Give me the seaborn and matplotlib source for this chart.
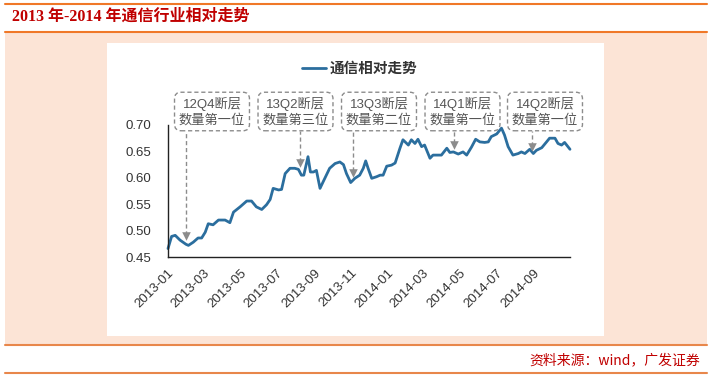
import matplotlib
matplotlib.use("Agg")
import matplotlib.pyplot as plt
import matplotlib.dates as mdates
from matplotlib.patches import Rectangle
import seaborn as sns
import pandas as pd

# ---------------- data ----------------
dates = [
    "2013-01-01", "2013-01-07", "2013-01-13", "2013-01-21", "2013-01-31", "2013-02-04",
    "2013-02-12", "2013-02-20", "2013-02-26", "2013-03-04", "2013-03-09", "2013-03-17",
    "2013-03-26", "2013-04-06", "2013-04-14", "2013-04-20", "2013-05-01", "2013-05-12",
    "2013-05-20", "2013-05-28", "2013-06-06", "2013-06-14", "2013-06-20", "2013-06-25",
    "2013-07-04", "2013-07-09", "2013-07-15", "2013-07-23", "2013-07-31", "2013-08-06",
    "2013-08-11", "2013-08-15", "2013-08-22", "2013-08-26", "2013-08-31", "2013-09-05",
    "2013-09-11", "2013-09-16", "2013-09-27", "2013-10-06", "2013-10-14", "2013-10-20",
    "2013-10-25", "2013-11-01", "2013-11-08", "2013-11-16", "2013-11-22", "2013-11-26",
    "2013-11-30", "2013-12-06", "2013-12-14", "2013-12-20", "2013-12-25", "2013-12-31",
    "2014-01-08", "2014-01-14", "2014-01-22", "2014-01-27", "2014-02-05", "2014-02-10",
    "2014-02-16", "2014-02-21", "2014-02-27", "2014-03-04", "2014-03-13", "2014-03-18",
    "2014-03-27", "2014-04-01", "2014-04-10", "2014-04-15", "2014-04-21", "2014-04-29",
    "2014-05-07", "2014-05-13", "2014-05-21", "2014-05-28", "2014-06-04", "2014-06-12",
    "2014-06-18", "2014-06-23", "2014-07-02", "2014-07-10", "2014-07-15", "2014-07-21",
    "2014-07-29", "2014-08-07", "2014-08-12", "2014-08-18", "2014-08-26", "2014-09-01",
    "2014-09-06", "2014-09-15", "2014-09-23", "2014-09-28", "2014-10-07", "2014-10-12",
    "2014-10-18", "2014-10-23", "2014-11-01",
]
values = [
    0.466, 0.489, 0.491, 0.482, 0.474, 0.472,
    0.478, 0.486, 0.486, 0.497, 0.513, 0.511,
    0.520, 0.520, 0.515, 0.535, 0.545, 0.556,
    0.556, 0.545, 0.540, 0.549, 0.559, 0.580,
    0.577, 0.578, 0.608, 0.618, 0.618, 0.616,
    0.605, 0.605, 0.640, 0.611, 0.611, 0.614,
    0.580, 0.592, 0.618, 0.627, 0.630, 0.625,
    0.608, 0.591, 0.599, 0.605, 0.618, 0.632,
    0.618, 0.599, 0.602, 0.605, 0.605, 0.622,
    0.624, 0.628, 0.656, 0.672, 0.662, 0.672,
    0.665, 0.673, 0.659, 0.662, 0.637, 0.643,
    0.643, 0.643, 0.656, 0.648, 0.649, 0.645,
    0.649, 0.643, 0.658, 0.673, 0.668, 0.667,
    0.668, 0.678, 0.683, 0.694, 0.681, 0.659,
    0.643, 0.646, 0.649, 0.646, 0.654, 0.646,
    0.652, 0.657, 0.668, 0.675, 0.675, 0.665,
    0.662, 0.667, 0.654,
]
series_name = "通信相对走势"

event_dates = ["2013-01-31", "2013-08-08", "2013-11-05", "2014-04-22", "2014-08-29"]
event_values = [0.485, 0.624, 0.606, 0.659, 0.654]
event_line1 = ["12Q4断层", "13Q2断层", "13Q3断层", "14Q1断层", "14Q2断层"]
event_line2 = ["数量第一位", "数量第三位", "数量第二位", "数量第一位", "数量第一位"]

y_ticks = [0.45, 0.50, 0.55, 0.60, 0.65, 0.70]
tick_months = [1, 3, 5, 7, 9, 11]

title_text = "2013 年-2014 年通信行业相对走势"
source_text = "资料来源：wind，广发证券"

# ---------------- style ----------------
sns.set_style("white")
plt.rcParams["font.family"] = ["Liberation Sans", "Noto Sans CJK SC", "DejaVu Sans"]

W, H = 713, 378
fig = plt.figure(figsize=(W / 100, H / 100), dpi=100)

def fx(px):
    return px / W

def fy(py):
    return 1 - py / H

orange = "#F07828"
peach = "#FCE4D6"
red = "#C00000"

# background frame
fig.patches.append(Rectangle((fx(5), fy(344)), fx(707) - fx(5), fy(33) - fy(344),
                             transform=fig.transFigure, facecolor=peach, edgecolor="none", zorder=-3))
fig.patches.append(Rectangle((fx(107), fy(336)), fx(604) - fx(107), fy(43) - fy(336),
                             transform=fig.transFigure, facecolor="white", edgecolor="none", zorder=-2))
for yy, col in [(4, orange), (32, orange), (345, "#E8874B"), (373, "#E8874B")]:
    fig.add_artist(plt.Line2D([fx(5), fx(707)], [fy(yy), fy(yy)], transform=fig.transFigure,
                              color=col, lw=1.5, zorder=-1))

fig.text(fx(12), fy(17), title_text, color=red, fontsize=11.5, fontweight="bold",
         family=["Liberation Serif", "Noto Sans CJK SC"], va="center", ha="left")
fig.text(fx(700), fy(360), source_text, color=red, fontsize=10,
         family=["Noto Sans CJK SC", "DejaVu Sans"], va="center", ha="right")

# axes
ax = fig.add_axes([fx(168), fy(257), fx(570) - fx(168), fy(125) - fy(257)])
ax.set_zorder(2)
ax.patch.set_alpha(0)

df = pd.DataFrame({"date": pd.to_datetime(dates), "value": values})
sns.lineplot(data=df, x="date", y="value", ax=ax, color="#2B6E9E", lw=2.0,
             label=series_name, legend=False)

ax.set_xlim(pd.Timestamp("2013-01-01"), pd.Timestamp("2014-11-01"))
ax.set_ylim(0.45, 0.70)
ax.set_yticks(y_ticks)
ax.set_yticklabels([f"{v:.2f}" for v in y_ticks])
ax.xaxis.set_major_locator(mdates.MonthLocator(bymonth=tick_months))
ax.xaxis.set_major_formatter(mdates.DateFormatter("%Y-%m"))
ax.set_xticks([t for t in ax.get_xticks() if t < mdates.date2num(pd.Timestamp("2014-10-15"))])
ax.xaxis.set_major_formatter(mdates.DateFormatter("%Y-%m"))
ax.set_xlabel("")
ax.set_ylabel("")
for s in ["top", "right"]:
    ax.spines[s].set_visible(False)
for s in ["left", "bottom"]:
    ax.spines[s].set_color("#222222")
    ax.spines[s].set_linewidth(1.0)
ax.tick_params(axis="both", direction="out", length=4, width=1.0, color="#222222",
               labelsize=9.5, labelcolor="#333333", pad=3)
ax.tick_params(axis="y", pad=8)
for lab in ax.get_xticklabels():
    lab.set_rotation(45)
    lab.set_ha("right")
    lab.set_rotation_mode("anchor")
ax.grid(False)
for line in ax.get_lines():
    line.set_clip_on(False)

# event arrows
top_val = 0.688
for d, v in zip(event_dates, event_values):
    xd = pd.Timestamp(d)
    ax.plot([xd, xd], [v + 0.006, top_val], ls=(0, (3, 2)), color="#8C8C8C", lw=1.0,
            clip_on=False, zorder=3)
    ax.scatter([xd], [v + 0.004], marker="v", s=38, color="#8C8C8C", clip_on=False, zorder=4,
               linewidths=0)

# event boxes
box_cx = [212, 295.5, 379, 462.5, 545]
for cx, t1, t2 in zip(box_cx, event_line1, event_line2):
    fig.text(fx(cx), fy(111.5), t1 + "\n" + t2, ha="center", va="center", fontsize=9.5,
             color="#555555", linespacing=1.3,
             family=["Liberation Sans", "Noto Sans CJK SC"],
             bbox=dict(boxstyle="round,pad=0.33,rounding_size=0.5", facecolor="white",
                       edgecolor="#8C8C8C", linestyle=(0, (3, 2)), linewidth=1.0))

# legend
handles, labels = ax.get_legend_handles_labels()
leg = fig.legend(handles, labels, loc="center", bbox_to_anchor=(fx(360), fy(68)),
                 frameon=False, handlelength=1.6, handletextpad=0.3,
                 prop={"family": ["Noto Sans CJK SC"], "weight": "bold", "size": 10.5})
for t in leg.get_texts():
    t.set_color("#333333")

fig.savefig("out.png", dpi=100)
